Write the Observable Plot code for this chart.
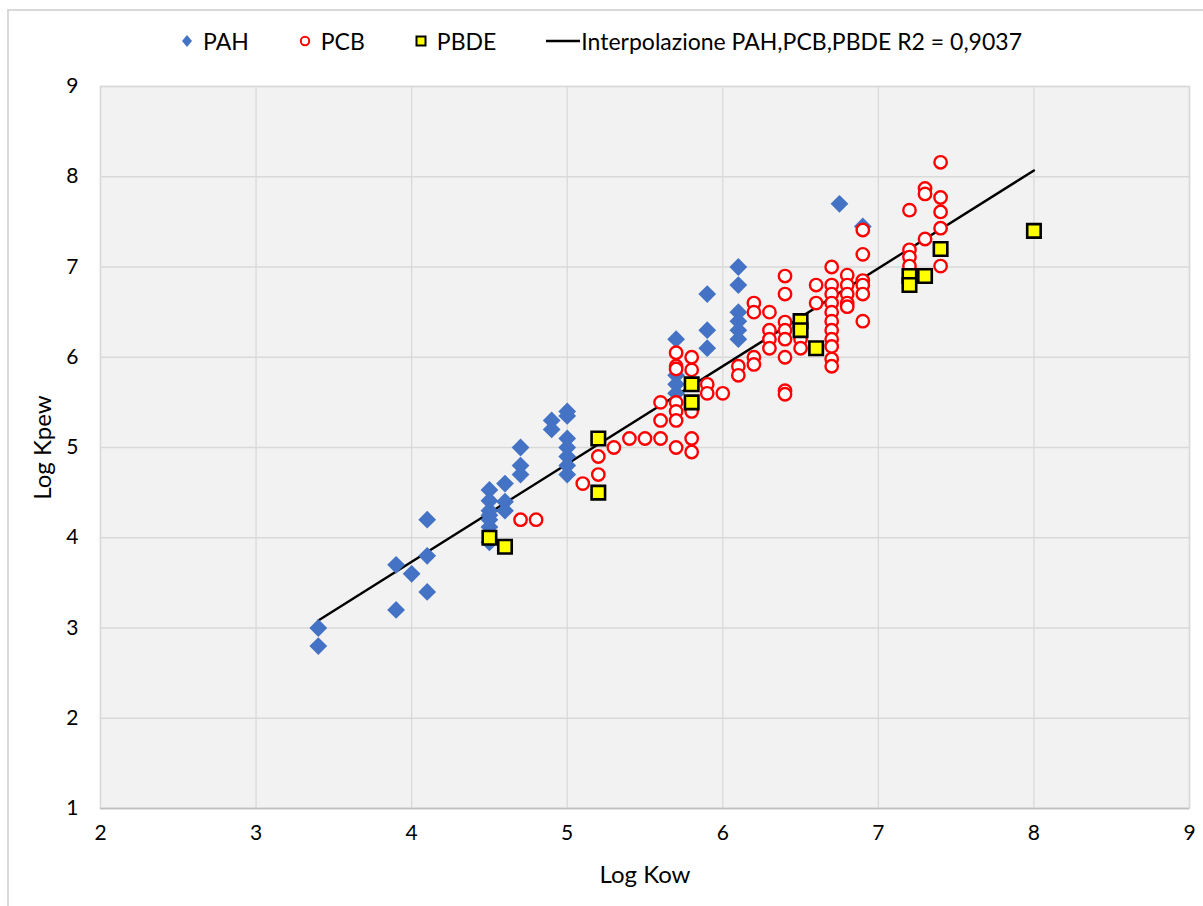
<!DOCTYPE html>
<html>
<head>
<meta charset="utf-8">
<script src="https://cdn.jsdelivr.net/npm/d3@7"></script>
<script src="https://cdn.jsdelivr.net/npm/@observablehq/plot@0.6"></script>
<style>
  html, body { margin: 0; padding: 0; background: #fff; overflow: hidden; }
  body { width: 1203px; height: 906px; position: relative; font-family: Lato, "Open Sans", sans-serif; }
  #border { position: absolute; left: 7px; top: 9px; width: 1220px; height: 920px; border: 2px solid #d9d9d9; box-sizing: border-box; pointer-events: none; }
  #legend { position: relative; height: 70px; display: flex; align-items: center; justify-content: center; font-size: 23px; color: #000; padding-top: 12px; box-sizing: border-box; }
  #legend .item { display: flex; align-items: center; margin-right: 50px; }
  #legend .item:last-child { margin-right: 0; }
  #legend svg { margin-right: 10px; }
  #plot { position: relative; }
  #plot svg { display: block; }
</style>
</head>
<body>
<div id="border"></div>
<div id="legend"></div>
<div id="plot"></div>
<script>
// Series: [Log Kow, Log Kpew]
const pah = [
  [3.4, 3.0], [3.4, 2.8],
  [3.9, 3.7], [3.9, 3.2],
  [4.0, 3.6],
  [4.1, 4.2], [4.1, 3.8], [4.1, 3.4],
  [4.5, 4.53], [4.5, 4.41], [4.5, 4.3], [4.5, 4.25], [4.5, 4.2], [4.5, 4.12], [4.5, 3.95],
  [4.6, 4.6], [4.6, 4.4], [4.6, 4.3],
  [4.7, 5.0], [4.7, 4.8], [4.7, 4.7],
  [4.9, 5.3], [4.9, 5.2],
  [5.0, 5.4], [5.0, 5.35], [5.0, 5.1], [5.0, 5.0], [5.0, 4.9], [5.0, 4.8], [5.0, 4.7],
  [5.7, 6.2], [5.7, 5.8], [5.7, 5.7], [5.7, 5.6],
  [5.9, 6.7], [5.9, 6.3], [5.9, 6.1],
  [6.1, 7.0], [6.1, 6.8], [6.1, 6.5], [6.1, 6.4], [6.1, 6.3], [6.1, 6.2],
  [6.75, 7.7],
  [6.9, 7.45]
];

const pcb = [
  [4.7, 4.2], [4.8, 4.2],
  [5.1, 4.6],
  [5.2, 4.9], [5.2, 4.7],
  [5.3, 5.0], [5.4, 5.1], [5.5, 5.1],
  [5.6, 5.5], [5.6, 5.3], [5.6, 5.1],
  [5.7, 6.05], [5.7, 5.9], [5.7, 5.87], [5.7, 5.5], [5.7, 5.4], [5.7, 5.3], [5.7, 5.0],
  [5.8, 6.0], [5.8, 5.86], [5.8, 5.4], [5.8, 5.1], [5.8, 4.95],
  [5.9, 5.7], [5.9, 5.6],
  [6.0, 5.6],
  [6.1, 5.9], [6.1, 5.8],
  [6.2, 6.6], [6.2, 6.5], [6.2, 6.0], [6.2, 5.92],
  [6.3, 6.5], [6.3, 6.3], [6.3, 6.2], [6.3, 6.1],
  [6.4, 6.9], [6.4, 6.7], [6.4, 6.39], [6.4, 6.3], [6.4, 6.2], [6.4, 6.0], [6.4, 5.63], [6.4, 5.59],
  [6.5, 6.2], [6.5, 6.1],
  [6.6, 6.8], [6.6, 6.6],
  [6.7, 7.0], [6.7, 6.8], [6.7, 6.7], [6.7, 6.6], [6.7, 6.5], [6.7, 6.4], [6.7, 6.3], [6.7, 6.2], [6.7, 6.12], [6.7, 5.98], [6.7, 5.9],
  [6.8, 6.91], [6.8, 6.8], [6.8, 6.7], [6.8, 6.6], [6.8, 6.56],
  [6.9, 7.41], [6.9, 7.14], [6.9, 6.85], [6.9, 6.8], [6.9, 6.7], [6.9, 6.4],
  [7.2, 7.63], [7.2, 7.19], [7.2, 7.11], [7.2, 7.01],
  [7.3, 7.87], [7.3, 7.81], [7.3, 7.31],
  [7.4, 8.16], [7.4, 7.77], [7.4, 7.61], [7.4, 7.43], [7.4, 7.01]
];

const pbde = [
  [4.5, 4.0], [4.6, 3.9],
  [5.2, 5.1], [5.2, 4.5],
  [5.8, 5.7], [5.8, 5.5],
  [6.5, 6.4], [6.5, 6.3],
  [6.6, 6.1],
  [7.2, 6.9], [7.2, 6.8],
  [7.3, 6.9],
  [7.4, 7.2],
  [8.0, 7.4]
];

const xTicks = [2, 3, 4, 5, 6, 7, 8, 9];
const yTicks = [1, 2, 3, 4, 5, 6, 7, 8, 9];
const seriesNames = ["PAH", "PCB", "PBDE"];
const fitLabel = "Interpolazione PAH,PCB,PBDE R2 = 0,9037";

const colors = { pah: "#4472c4", pcb: "#ff0000", pbde: "#ffff00" };

// Legend above the chart
const legend = document.getElementById("legend");
const swatches = [
  `<svg width="12" height="14"><path d="M6,1 L11,7 L6,13 L1,7 Z" fill="${colors.pah}"/></svg>`,
  `<svg width="12" height="12"><circle cx="6" cy="6" r="4.2" fill="#fff" stroke="${colors.pcb}" stroke-width="2"/></svg>`,
  `<svg width="12" height="12"><rect x="1.5" y="1.5" width="9" height="9" fill="${colors.pbde}" stroke="#000" stroke-width="2"/></svg>`
];
seriesNames.forEach((name, i) => {
  const el = document.createElement("div");
  el.className = "item";
  el.innerHTML = swatches[i] + `<span>${name}</span>`;
  legend.appendChild(el);
});
{
  const el = document.createElement("div");
  el.className = "item";
  el.innerHTML = `<svg width="34" height="6" style="margin-right:1px"><line x1="0" y1="3" x2="34" y2="3" stroke="#000" stroke-width="2.5"/></svg><span>${fitLabel}</span>`;
  legend.appendChild(el);
}

const all = [...pah, ...pcb, ...pbde];

const chart = Plot.plot({
  width: 1203,
  height: 836,
  marginLeft: 100,
  marginRight: 14,
  marginTop: 16,
  marginBottom: 98,
  style: { fontFamily: "Lato, 'Open Sans', sans-serif", fontSize: "21px", color: "#000", background: "transparent" },
  x: { domain: [2, 9], ticks: xTicks, label: null },
  y: { domain: [1, 9], ticks: yTicks, label: null },
  marks: [
    Plot.frame({ fill: "#f2f2f2" }),
    Plot.gridX(xTicks, { stroke: "#d9d9d9", strokeOpacity: 1, strokeWidth: 1.3 }),
    Plot.gridY(yTicks, { stroke: "#d9d9d9", strokeOpacity: 1, strokeWidth: 1.3 }),
    Plot.frame({ stroke: "#d9d9d9", strokeWidth: 1.5 }),
    Plot.ruleY([1], { stroke: "#bfbfbf", strokeWidth: 1.5 }),
    Plot.axisX(xTicks, { tickSize: 0, tickPadding: 17, fontSize: 21, tickFormat: d => String(d) }),
    Plot.axisY(yTicks, { tickSize: 0, tickPadding: 22, fontSize: 21, tickFormat: d => String(d) }),
    Plot.text(["Log Kow"], { frameAnchor: "bottom", dy: 67, lineAnchor: "middle", fontSize: 24 }),
    Plot.text(["Log Kpew"], { frameAnchor: "left", dx: -57, rotate: -90, lineAnchor: "middle", textAnchor: "middle", fontSize: 24 }),
    Plot.linearRegressionY(all, { x: d => d[0], y: d => d[1], ci: 0, stroke: "#000", strokeWidth: 2.4 }),
    Plot.dot(pah, { x: d => d[0], y: d => d[1], symbol: "diamond2", r: 8, fill: colors.pah, stroke: "none" }),
    Plot.dot(pcb, { x: d => d[0], y: d => d[1], symbol: "circle", r: 6.2, fill: "#fff", stroke: colors.pcb, strokeWidth: 2.4 }),
    Plot.dot(pbde, { x: d => d[0], y: d => d[1], symbol: "square", r: 7.6, fill: colors.pbde, stroke: "#000", strokeWidth: 2.6 })
  ]
});
document.getElementById("plot").appendChild(chart);
</script>
</body>
</html>
